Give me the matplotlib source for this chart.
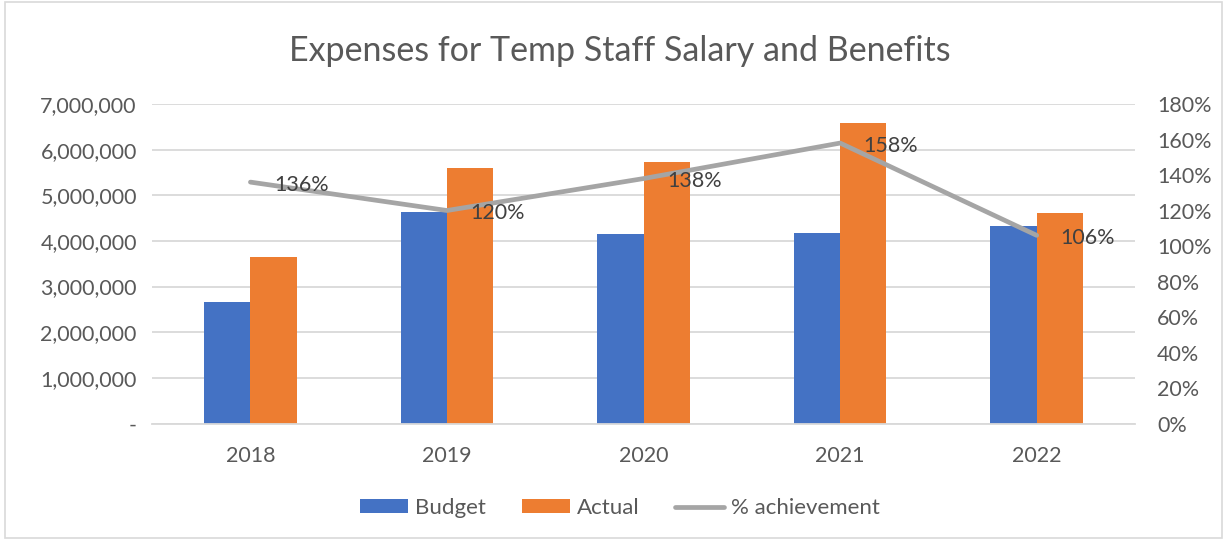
import matplotlib.pyplot as plt
import matplotlib.ticker as mticker
from matplotlib.patches import Rectangle
import numpy as np

years = ["2018", "2019", "2020", "2021", "2022"]
budget = [2670000, 4630000, 4150000, 4170000, 4330000]
actual = [3640000, 5600000, 5730000, 6580000, 4610000]
achievement = [1.36, 1.20, 1.38, 1.58, 1.06]
pct_labels = ["136%", "120%", "138%", "158%", "106%"]

BLUE = "#4472C4"
ORANGE = "#ED7D31"
GRAY = "#A5A5A5"
TXT = "#595959"
GRID = "#D9D9D9"

plt.rcParams["font.family"] = ["Lato", "DejaVu Sans"]

fig = plt.figure(figsize=(12.27, 5.40), dpi=100)
ax = fig.add_axes([0.124, 0.2157, 0.801, 0.5917])
ax2 = ax.twinx()

x = np.arange(len(years))
w = 0.235
ax.bar(x - w / 2, budget, width=w, color=BLUE, label="Budget", zorder=2)
ax.bar(x + w / 2, actual, width=w, color=ORANGE, label="Actual", zorder=2)

ax.set_xlim(-0.5, len(years) - 0.5)
ax.set_ylim(0, 7000000)
ax.yaxis.set_major_locator(mticker.MultipleLocator(1000000))
ax.yaxis.set_major_formatter(mticker.FuncFormatter(lambda v, p: "-" if v == 0 else f"{v:,.0f}"))
ax.grid(axis="y", color=GRID, linewidth=1.3, zorder=0)
ax.set_axisbelow(True)
ax.set_xticks(x)
ax.set_xticklabels(years)
ax.tick_params(axis="y", length=0, labelsize=15.5, colors=TXT, pad=11)
ax.tick_params(axis="x", length=0, labelsize=15.5, colors=TXT, pad=16)

ax2.plot(x, achievement, color=GRAY, linewidth=3.4, solid_capstyle="round",
         solid_joinstyle="round", label="% achievement", zorder=3)
ax2.set_ylim(0, 1.8)
ax2.yaxis.set_major_locator(mticker.MultipleLocator(0.2))
ax2.yaxis.set_major_formatter(mticker.FuncFormatter(lambda v, p: f"{v * 100:.0f}%"))
ax2.tick_params(axis="y", length=0, labelsize=15.5, colors=TXT, pad=16)

for xi, yi, lab in zip(x, achievement, pct_labels):
    ax2.annotate(lab, xy=(xi, yi), xytext=(17, -2), textcoords="offset points",
                 ha="left", va="center", fontsize=15.5, color="#404040", zorder=4)

for a in (ax, ax2):
    for s in a.spines.values():
        s.set_visible(False)
ax.spines["bottom"].set_visible(True)
ax.spines["bottom"].set_color(GRID)
ax.spines["bottom"].set_linewidth(1.3)

fig.text(0.505, 0.905, "Expenses for Temp Staff Salary and Benefits",
         ha="center", va="center", fontsize=24.5, color=TXT)

h1, l1 = ax.get_legend_handles_labels()
h2, l2 = ax2.get_legend_handles_labels()
fig.legend(h1 + h2, l1 + l2, loc="center", bbox_to_anchor=(0.505, 0.059), ncol=3,
           frameon=False, fontsize=16, labelcolor=TXT, handlelength=2.2,
           handleheight=0.6, columnspacing=1.6, handletextpad=0.3)

fig.patches.append(Rectangle((0.004, 0.004), 0.992, 0.992, transform=fig.transFigure,
                             fill=False, edgecolor=GRID, linewidth=1.2))

fig.savefig("out.png", dpi=100)
